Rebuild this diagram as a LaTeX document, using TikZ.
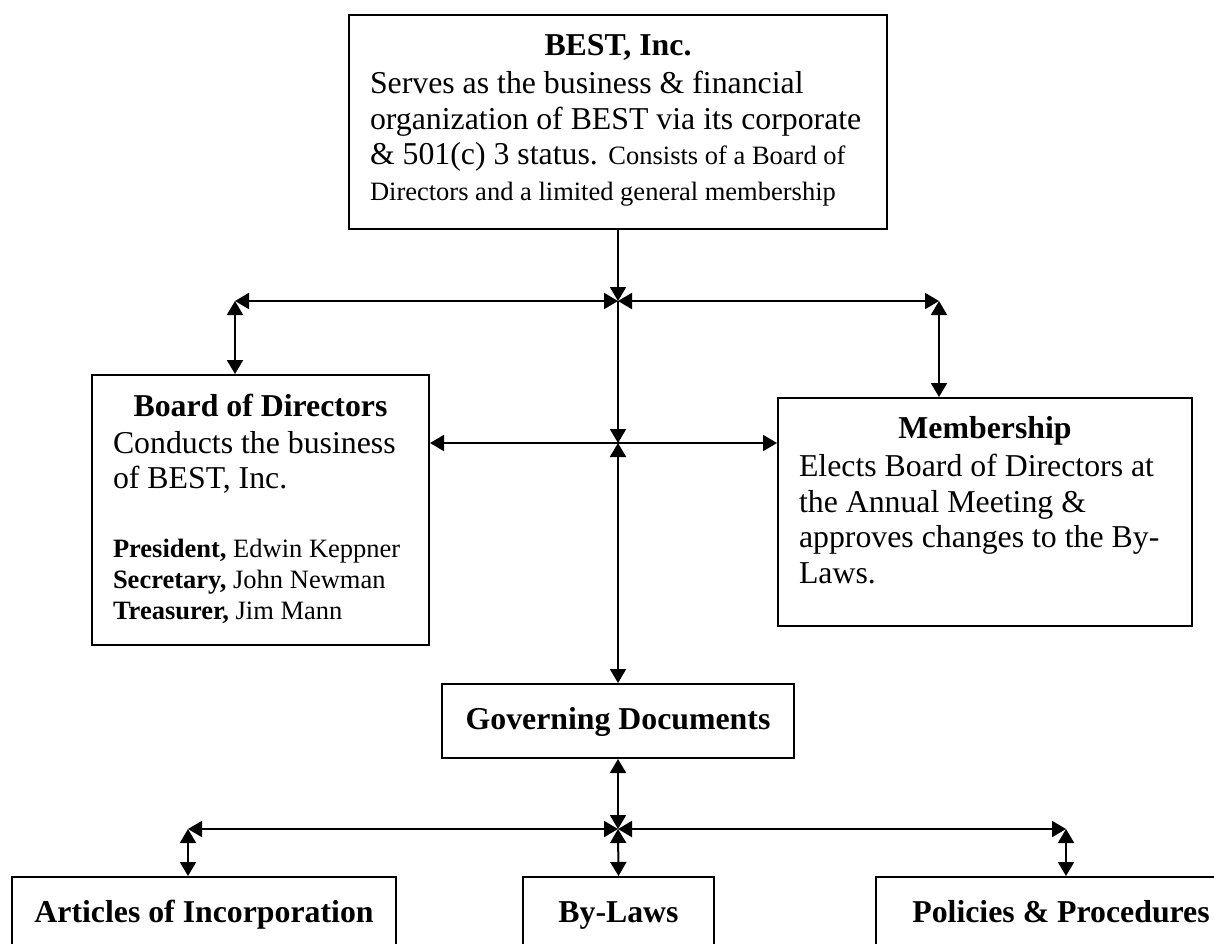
\documentclass[tikz,border=0pt]{standalone}
\usepackage{fontspec}
\setmainfont{Liberation Serif}
\usetikzlibrary{arrows.meta}
\newcommand\bigtxt{\fontsize{15.9}{17.75}\selectfont}
\newcommand\smalltxt{\fontsize{13.25}{17.75}\selectfont}
\newcommand\listtxt{\fontsize{13.25}{15.5}\selectfont}
\begin{document}
\begin{tikzpicture}[x=0.5pt,y=-0.5pt,line width=1pt,>={Triangle[length=7pt,width=8pt]},
	box/.style={draw,anchor=north,inner xsep=10.5pt,inner ysep=0pt,font=\bigtxt}]
	\useasboundingbox (0,0) rectangle (1214,943);
	\node[box,text height=20pt,text depth=87pt](best) at (618,14){\parbox[t]{248pt}{\raggedright
		{\centering\bfseries BEST, Inc.\par}\vspace{1.5pt}
		Serves as the business \& financial\\
		organization of BEST via its corporate\\
		\& 501(c) 3 status. {\smalltxt Consists of a Board of\\
		Directors and a limited general membership}}};
	\node[box,text height=20.75pt,text depth=114.25pt](board) at (260.5,374){\parbox[t]{147.5pt}{\raggedright
		{\centering\bfseries Board of Directors\par}\vspace{0.5pt}
		Conducts the business\\
		of BEST, Inc.\par\vspace{19pt}
		\listtxt\textbf{President,} Edwin Keppner\\
		\textbf{Secretary,} John Newman\\
		\textbf{Treasurer,} Jim Mann\par}};
	\node[box,text height=20.25pt,text depth=93.75pt](member) at (985,397){\parbox[t]{186pt}{\raggedright
		{\centering\bfseries Membership\par}\vspace{1.25pt}
		Elects Board of Directors at\\
		the Annual Meeting \&\\
		approves changes to the By-\\
		Laws.}};
	\node[box,minimum width=176pt,text height=22.5pt,text depth=14.5pt](gov) at (618,683){\bfseries Governing Documents};
	\node[box,minimum width=192pt,text height=22.5pt,text depth=24.5pt](articles) at (204,876){\bfseries Articles of Incorporation};
	\node[box,minimum width=95.5pt,text height=22.5pt,text depth=24.5pt](bylaws) at (618.5,876){\bfseries By-Laws};
	\node[box,minimum width=185.5pt,text height=22.5pt,text depth=24.5pt](policies) at (1061,876){\bfseries Policies \& Procedures};
	\coordinate (J1) at (618,301);
	\coordinate (L1) at (235,301);
	\coordinate (R1) at (939,301);
	\coordinate (J2) at (618,443);
	\coordinate (J3) at (618,829);
	\coordinate (L3) at (188,829);
	\coordinate (R3) at (1066,829);
	\draw[->](best.south)--(J1);
	\draw[<->](J1)--(L1);
	\draw[<->](J1)--(R1);
	\draw[<->](L1)--(L1|-board.north);
	\draw[<->](R1)--(R1|-member.north);
	\draw[->](J1)--(J2);
	\draw[<->](board.east|-J2)--(member.west|-J2);
	\draw[<->](J2)--(gov.north);
	\draw[<->](gov.south)--(J3);
	\draw[<->](J3)--(L3);
	\draw[<->](J3)--(R3);
	\draw[<->](J3)--(bylaws.north);
	\draw[<->](L3)--(L3|-articles.north);
	\draw[<->](R3)--(R3|-policies.north);
\end{tikzpicture}
\end{document}
